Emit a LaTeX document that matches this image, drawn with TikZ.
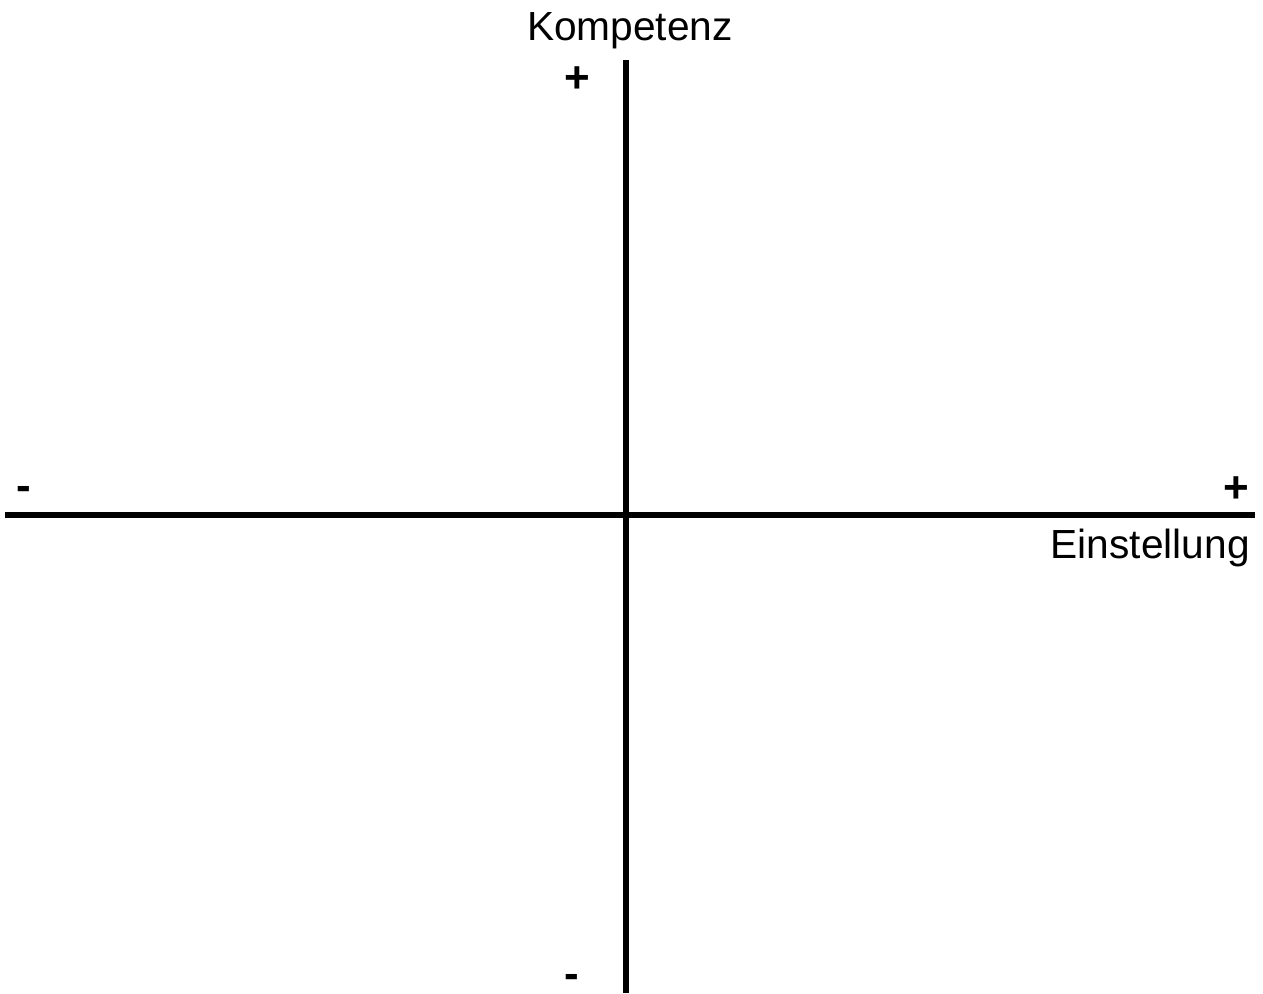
\documentclass[tikz,border=0pt]{standalone}
\usepackage{fontspec}
\setmainfont{Liberation Sans}
\usetikzlibrary{positioning}

\begin{document}
\begin{tikzpicture}[
    x=0.75pt, y=-0.75pt,
    axis/.style={line width=3.9pt},
    axislabel/.style={inner sep=0pt, font=\fontsize{30.5}{36}\selectfont},
    signlabel/.style={inner sep=0pt, anchor=base, font=\fontsize{33}{38}\selectfont\bfseries}
]
\useasboundingbox (0,0) rectangle (1263,993);

% ----- Axis end points -----
\coordinate (Xmin) at (5,515);
\coordinate (Xmax) at (1255,515);
\coordinate (Ymax) at (626,60);
\coordinate (Ymin) at (626,993);

% ----- Axes -----
\draw[axis] (Xmin) -- (Xmax);
\draw[axis] (Ymin) -- (Ymax);

% ----- Labels -----
\node[axislabel, anchor=base] (kompetenz) at (630,40) {Kompetenz};
\node[axislabel, anchor=base east] (einstellung) at (1250,558) {Einstellung};

% ----- Signs -----
\node[signlabel] (yplus) at (577,92) {+};
\node[signlabel] (yminus) at (572,988) {-};
\node[signlabel] (xminus) at (24,500) {-};
\node[signlabel] (xplus) at (1236,502) {+};

\end{tikzpicture}
\end{document}
